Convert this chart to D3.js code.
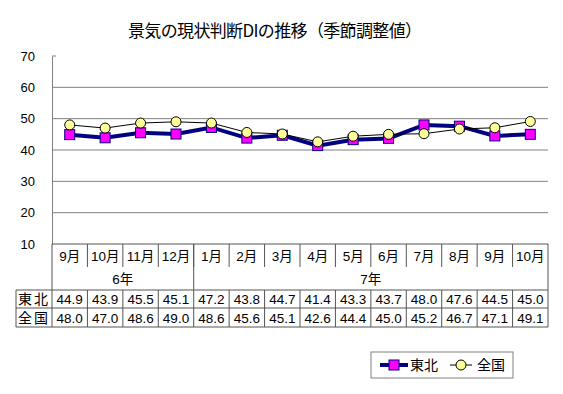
<!DOCTYPE html>
<html>
<head>
<meta charset="utf-8">
<script src="https://cdn.jsdelivr.net/npm/d3@7"></script>
<style>
  body { margin: 0; background: #fff; }
  text { font-family: "Liberation Sans", "Noto Sans CJK JP", sans-serif; }
</style>
</head>
<body>
<div id="chart"></div>
<script>
var months = ["9月","10月","11月","12月","1月","2月","3月","4月","5月","6月","7月","8月","9月","10月"];
var years = [{ label: "6年", span: 4 }, { label: "7年", span: 10 }];
var tohoku = [44.9,43.9,45.5,45.1,47.2,43.8,44.7,41.4,43.3,43.7,48.0,47.6,44.5,45.0];
var zenkoku = [48.0,47.0,48.6,49.0,48.6,45.6,45.1,42.6,44.4,45.0,45.2,46.7,47.1,49.1];
var yTicks = [10,20,30,40,50,60,70];

var width = 563, height = 394;
var margin = { left: 52, right: 15, top: 56, bottom: 150 };
var plotRight = width - margin.right,
    plotBottom = height - margin.bottom;

var svg = d3.select("#chart").append("svg")
  .attr("width", width)
  .attr("height", height);

var xScale = d3.scaleBand()
  .domain(d3.range(months.length))
  .range([margin.left, plotRight]);
var yScale = d3.scaleLinear()
  .domain([10, 70])
  .range([plotBottom, margin.top]);

// title
svg.append("text")
  .attr("x", 128).attr("y", 37)
  .attr("textLength", 294)
  .style("font-family", "'Noto Sans CJK JP', sans-serif")
  .style("font-size", "17px")
  .text("景気の現状判断DIの推移（季節調整値）");

// gridlines
svg.append("g").selectAll("line")
  .data(yTicks.filter(function(d){ return d > 10 && d < 70; }))
  .enter().append("line")
  .attr("x1", margin.left).attr("x2", plotRight)
  .attr("y1", function(d){ return yScale(d); })
  .attr("y2", function(d){ return yScale(d); })
  .attr("stroke", "#808080").attr("stroke-width", 1);

// y axis
var yAxis = svg.append("g")
  .attr("transform", "translate(" + margin.left + ",0)")
  .call(d3.axisLeft(yScale).tickValues(yTicks).tickSize(0).tickPadding(17));
yAxis.select(".domain").attr("stroke", "#808080");
yAxis.selectAll("text").style("font-size", "13px").attr("fill", "#000");
svg.append("line")
  .attr("x1", margin.left).attr("x2", margin.left + 4)
  .attr("y1", yScale(70)).attr("y2", yScale(70))
  .attr("stroke", "#808080");

// lines
var line = function(vals) {
  return d3.line()
    .x(function(d, i){ return xScale(i) + xScale.bandwidth() / 2; })
    .y(function(d){ return yScale(d); })(vals);
};

svg.append("path")
  .attr("d", line(tohoku))
  .attr("fill", "none").attr("stroke", "#000080").attr("stroke-width", 4);
svg.append("path")
  .attr("d", line(zenkoku))
  .attr("fill", "none").attr("stroke", "#000").attr("stroke-width", 1);

svg.append("g").selectAll("rect")
  .data(tohoku).enter().append("rect")
  .attr("x", function(d, i){ return xScale(i) + xScale.bandwidth() / 2 - 5; })
  .attr("y", function(d){ return yScale(d) - 5; })
  .attr("width", 10).attr("height", 10)
  .attr("fill", "#ff00ff").attr("stroke", "#000080").attr("stroke-width", 1);

svg.append("g").selectAll("circle")
  .data(zenkoku).enter().append("circle")
  .attr("cx", function(d, i){ return xScale(i) + xScale.bandwidth() / 2; })
  .attr("cy", function(d){ return yScale(d); })
  .attr("r", 5)
  .attr("fill", "#ffff99").attr("stroke", "#000").attr("stroke-width", 1);

// data table
var tableLeft = 16;
var rowMonth = plotBottom, rowYear = plotBottom + 23, rowT = plotBottom + 46,
    rowZ = plotBottom + 64, rowEnd = plotBottom + 83;
var tbl = svg.append("g")
  .attr("stroke", "#555").attr("stroke-width", 1).attr("fill", "none");

tbl.append("line").attr("x1", margin.left).attr("x2", plotRight).attr("y1", rowMonth).attr("y2", rowMonth);
tbl.append("line").attr("x1", tableLeft).attr("x2", plotRight).attr("y1", rowT).attr("y2", rowT);
tbl.append("line").attr("x1", tableLeft).attr("x2", plotRight).attr("y1", rowZ).attr("y2", rowZ);
tbl.append("line").attr("x1", tableLeft).attr("x2", plotRight).attr("y1", rowEnd).attr("y2", rowEnd);
tbl.append("line").attr("x1", tableLeft).attr("x2", tableLeft).attr("y1", rowT).attr("y2", rowEnd);
tbl.append("line").attr("x1", margin.left).attr("x2", margin.left).attr("y1", rowMonth).attr("y2", rowEnd);
tbl.append("line").attr("x1", plotRight).attr("x2", plotRight).attr("y1", rowMonth).attr("y2", rowEnd);

// month separators (short) and data separators
months.forEach(function(m, i) {
  if (i === 0) return;
  var x = xScale(i);
  tbl.append("line").attr("x1", x).attr("x2", x).attr("y1", rowMonth).attr("y2", rowYear);
  tbl.append("line").attr("x1", x).attr("x2", x).attr("y1", rowT).attr("y2", rowEnd);
});
// year boundary
var acc = 0;
years.forEach(function(y, k) {
  if (k > 0) {
    var x = xScale(acc);
    tbl.append("line").attr("x1", x).attr("x2", x).attr("y1", rowMonth).attr("y2", rowT);
  }
  acc += y.span;
});

var txt = svg.append("g").style("font-size", "13.5px").attr("fill", "#000").attr("text-anchor", "middle");
txt.selectAll(".m").data(months).enter().append("text")
  .attr("x", function(d, i){ return xScale(i) + xScale.bandwidth() / 2; })
  .attr("y", rowMonth + 17)
  .text(function(d){ return d; });
acc = 0;
years.forEach(function(y) {
  var x0 = xScale(acc), x1 = xScale(acc + y.span - 1) + xScale.bandwidth();
  txt.append("text").attr("x", (x0 + x1) / 2).attr("y", rowYear + 17).text(y.label);
  acc += y.span;
});
txt.selectAll(".t").data(tohoku).enter().append("text")
  .attr("x", function(d, i){ return xScale(i) + xScale.bandwidth() / 2; })
  .attr("y", rowT + 14)
  .text(function(d){ return d.toFixed(1); });
txt.selectAll(".z").data(zenkoku).enter().append("text")
  .attr("x", function(d, i){ return xScale(i) + xScale.bandwidth() / 2; })
  .attr("y", rowZ + 15)
  .text(function(d){ return d.toFixed(1); });
txt.append("text").attr("x", (tableLeft + margin.left) / 2).attr("y", rowT + 14)
  .style("font-size", "14px").style("letter-spacing", "2px").text("東北");
txt.append("text").attr("x", (tableLeft + margin.left) / 2).attr("y", rowZ + 15)
  .style("font-size", "14px").style("letter-spacing", "2px").text("全国");

// legend
var lg = svg.append("g").attr("transform", "translate(371,352)");
lg.append("rect").attr("width", 142).attr("height", 26)
  .attr("fill", "#fff").attr("stroke", "#808080");
lg.append("line").attr("x1", 9).attr("x2", 37).attr("y1", 13).attr("y2", 13)
  .attr("stroke", "#000080").attr("stroke-width", 4);
lg.append("rect").attr("x", 18).attr("y", 8).attr("width", 10).attr("height", 10)
  .attr("fill", "#ff00ff").attr("stroke", "#000080");
lg.append("text").attr("x", 39).attr("y", 18).style("font-size", "14px").text("東北");
lg.append("line").attr("x1", 79).attr("x2", 101).attr("y1", 13).attr("y2", 13)
  .attr("stroke", "#000").attr("stroke-width", 1);
lg.append("circle").attr("cx", 90).attr("cy", 13).attr("r", 5)
  .attr("fill", "#ffff99").attr("stroke", "#000");
lg.append("text").attr("x", 106).attr("y", 18).style("font-size", "14px").text("全国");
</script>
</body>
</html>
